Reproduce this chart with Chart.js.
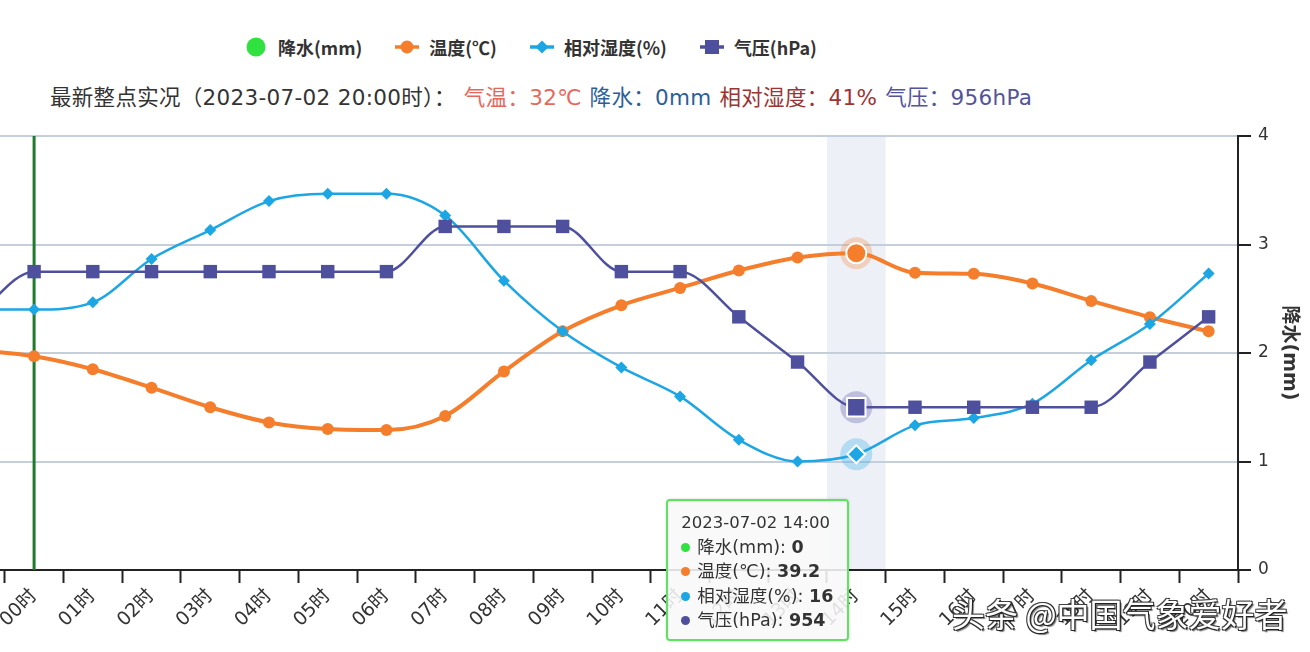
<!DOCTYPE html>
<html>
<head>
<meta charset="utf-8">
<script src="https://cdn.jsdelivr.net/npm/chart.js@4.4.1/dist/chart.umd.min.js"></script>
<style>
  html, body { margin:0; padding:0; width:1310px; height:652px; overflow:hidden; background:#fff;
    font-family:"Noto Sans CJK SC","Noto Sans",sans-serif; }
  #wrap { position:absolute; left:-66px; top:0; height:652px; }
  #legend { position:absolute; left:244px; top:35px; height:24px; display:flex; align-items:center;
    font-weight:bold; font-size:18px; color:#333; white-space:nowrap; }
  #legend .item { display:flex; align-items:center; margin-right:33px; }
  #legend canvas { margin-right:10px; }
  #subtitle { position:absolute; left:50px; top:84px; font-size:21.5px; color:#333; white-space:nowrap; line-height:28px;
    letter-spacing:0.3px; font-family:"DejaVu Sans","Noto Sans CJK SC",sans-serif; }
  #subtitle span.seg { margin-left:8px; }
  #tip { position:absolute; background:rgba(248,248,248,0.88); border:2px solid #5ee35e; border-radius:4px;
    padding:10px 14px 6px 13px; color:#333; white-space:nowrap; box-shadow:0 0 3px rgba(0,0,0,0.15);
    font-family:"DejaVu Sans","Noto Sans CJK SC",sans-serif; }
  #tip .t { font-size:16.5px; line-height:24px; }
  #tip .r { font-size:17.5px; line-height:24.4px; display:flex; align-items:center; }
  #tip .d { display:inline-block; width:9px; height:9px; border-radius:50%; margin-right:7px; }
  #tip b { font-weight:bold; }
  #wm { position:absolute; left:952px; top:589px; font-size:33px; color:#fff; white-space:nowrap;
    text-shadow: 1px 1px 0 #222, -1px -1px 0 #444, 1px -1px 0 #333, -1px 1px 0 #333, 2px 2px 1px rgba(0,0,0,0.5); }
</style>
</head>
<body>
<div id="legend"></div>
<div id="subtitle"></div>
<div id="wrap"><canvas id="c" width="1376" height="652"></canvas></div>
<div id="tip"></div>
<div id="wm">头条 @中国气象爱好者</div>
<script>
// ---------------- data ----------------
const hours = ['23时','00时','01时','02时','03时','04时','05时','06时','07时','08时','09时','10时',
               '11时','12时','13时','14时','15时','16时','17时','18时','19时','20时'];
const stamps = ['2023-07-01 23:00','2023-07-02 00:00','2023-07-02 01:00','2023-07-02 02:00','2023-07-02 03:00',
                '2023-07-02 04:00','2023-07-02 05:00','2023-07-02 06:00','2023-07-02 07:00','2023-07-02 08:00',
                '2023-07-02 09:00','2023-07-02 10:00','2023-07-02 11:00','2023-07-02 12:00','2023-07-02 13:00',
                '2023-07-02 14:00','2023-07-02 15:00','2023-07-02 16:00','2023-07-02 17:00','2023-07-02 18:00',
                '2023-07-02 19:00','2023-07-02 20:00'];
const precipitation = [0,0,0,0,0,0,0,0,0,0,0,0,0,0,0,0,0,0,0,0,0,0];
const temperature = [30.3,29.7,28.5,26.8,25.0,23.6,23.0,22.9,24.2,28.3,32.0,34.4,36.0,37.6,38.8,39.2,37.4,37.3,36.4,34.8,33.3,32.0];
const humidity    = [36,36,37,43,47,51,52,52,49,40,33,28,24,18,15,16,20,21,23,29,34,41];
const pressure    = [956,957,957,957,957,957,957,957,958,958,958,957,957,956,955,954,954,954,954,954,955,956];
const seriesNames = ['降水(mm)','温度(℃)','相对湿度(%)','气压(hPa)'];
const rainTicks = [0,1,2,3,4];
const markHour = '00时';
const activeHour = '14时';

// ---------------- styles ----------------
const C_RAIN = '#2fe23f', C_T = '#f57e2d', C_H = '#1da6e4', C_P = '#4e509e';
const HALO = { 1:'rgba(245,126,45,0.28)', 2:'rgba(29,166,228,0.28)', 3:'rgba(78,80,158,0.30)' };
Chart.defaults.font.family = '"DejaVu Sans","Noto Sans CJK SC",sans-serif';
const PLOT_LEFT_PAGE = -54;   // page x of the plot's left edge (left part cropped, as in the original)
const PLOT_WIDTH = 1292;
const AXIS_W = 72;

const overlay = {
  id:'overlay',
  beforeDraw(chart){
    const {ctx, chartArea, scales:{x}} = chart;
    const act = chart.getActiveElements();
    if (!act.length) return;
    const w = x.getPixelForValue(1) - x.getPixelForValue(0);
    const cx = x.getPixelForValue(act[0].index);
    ctx.save();
    ctx.fillStyle = '#eef0f7';
    ctx.fillRect(cx - w/2, chartArea.top, w, chartArea.bottom - chartArea.top);
    ctx.restore();
  },
  beforeDatasetsDraw(chart){
    const {ctx, chartArea, scales:{x}} = chart;
    ctx.save();
    const mx = x.getPixelForValue(hours.indexOf(markHour));
    ctx.strokeStyle = '#1f7a2b'; ctx.lineWidth = 3;
    ctx.beginPath(); ctx.moveTo(mx, chartArea.top); ctx.lineTo(mx, chartArea.bottom); ctx.stroke();
    chart.getActiveElements().forEach(a => {
      if (!HALO[a.datasetIndex]) return;
      const el = a.element;
      ctx.fillStyle = HALO[a.datasetIndex];
      ctx.beginPath(); ctx.arc(el.x, el.y, 16, 0, Math.PI*2); ctx.fill();
    });
    ctx.restore();
  }
};

const lineBase = { type:'line', cubicInterpolationMode:'monotone', tension:0.4, fill:false,
  pointBorderWidth:0, pointHoverBorderColor:'#fff', pointHoverBorderWidth:2 };

function build(canvas){
  return new Chart(canvas, {
    type:'line',
    data:{
      labels: hours,
      datasets:[
        { type:'bar', label:seriesNames[0], data:precipitation, yAxisID:'yRain', backgroundColor:C_RAIN, order:4 },
        Object.assign({}, lineBase, { label:seriesNames[1], data:temperature, yAxisID:'yT', borderColor:C_T, backgroundColor:C_T,
          borderWidth:4, pointStyle:'circle', pointRadius:6, pointHoverRadius:10, pointHoverBackgroundColor:C_T, order:3 }),
        Object.assign({}, lineBase, { label:seriesNames[2], data:humidity, yAxisID:'yH', borderColor:C_H, backgroundColor:C_H,
          borderWidth:2.5, pointStyle:'rectRot', pointRadius:6, pointHoverRadius:9, pointHoverBackgroundColor:C_H, order:2 }),
        Object.assign({}, lineBase, { label:seriesNames[3], data:pressure, yAxisID:'yP', borderColor:C_P, backgroundColor:C_P,
          borderWidth:2.5, pointStyle:'rect', pointRadius:9.5, pointHoverRadius:13, pointHoverBackgroundColor:C_P, order:1 })
      ]
    },
    options:{
      responsive:false, maintainAspectRatio:false, animation:false,
      layout:{ padding:{ top:136, left:0, right:0, bottom:0 } },
      plugins:{ legend:{display:false}, tooltip:{enabled:false} },
      scales:{
        x:{
          offset:true,
          grid:{ offset:true, drawOnChartArea:false, drawTicks:true, tickLength:13, tickColor:'#222', tickWidth:2 },
          border:{ display:true, color:'#222', width:2 },
          ticks:{ autoSkip:false, maxRotation:45, minRotation:45, padding:2, color:'#333', font:{ size:19 } },
          afterFit(s){ s.height = 82; s.paddingLeft = 0; s.paddingRight = 0; }
        },
        yRain:{
          position:'right', min:0, max:4,
          afterBuildTicks(s){ s.ticks = rainTicks.map(v => ({ value:v })); },
          grid:{ color:'#c5cfdb', lineWidth:2, tickColor:'#222', tickLength:13, tickWidth:2 },
          border:{ display:true, color:'#222', width:2 },
          ticks:{ color:'#333', font:{ size:17 }, padding:7 },
          title:{ display:true, text:seriesNames[0], color:'#333', font:{ size:19, weight:'bold' }, padding:{ top:10, bottom:0 } },
          afterFit(s){ s.width = AXIS_W; }
        },
        yT:{ display:false, min:10, max:50 },
        yH:{ display:false, min:0, max:60 },
        yP:{ display:false, min:950.4, max:960 }
      }
    },
    plugins:[overlay]
  });
}

const canvas = document.getElementById('c');
let chart = build(canvas);
const L0 = chart.chartArea.left;
chart.destroy();
canvas.width = Math.round(L0 + PLOT_WIDTH + AXIS_W);
canvas.height = 652;
chart = build(canvas);
const wrapLeft = PLOT_LEFT_PAGE - chart.chartArea.left;
const wrap = document.getElementById('wrap');
wrap.style.left = wrapLeft + 'px';
wrap.style.width = canvas.width + 'px';

const idx = hours.indexOf(activeHour);
chart.setActiveElements(chart.data.datasets.map((d,i) => ({ datasetIndex:i, index:idx })));
chart.update();

// ---------------- legend ----------------
const legendEl = document.getElementById('legend');
const legendColors = [C_RAIN, C_T, C_H, C_P];
seriesNames.forEach((name, i) => {
  const item = document.createElement('div'); item.className = 'item';
  const cv = document.createElement('canvas'); cv.width = 24; cv.height = 22;
  const g = cv.getContext('2d'); g.fillStyle = legendColors[i]; g.strokeStyle = legendColors[i];
  if (i === 0) { g.beginPath(); g.arc(12, 11, 9.5, 0, Math.PI*2); g.fill(); }
  else {
    g.lineWidth = 3.5; g.beginPath(); g.moveTo(0, 11); g.lineTo(24, 11); g.stroke();
    g.beginPath();
    if (i === 1) g.arc(12, 11, 6.5, 0, Math.PI*2);
    else if (i === 2) { g.moveTo(12, 4.5); g.lineTo(18.5, 11); g.lineTo(12, 17.5); g.lineTo(5.5, 11); g.closePath(); }
    else g.rect(5, 4, 14, 14);
    g.fill();
  }
  item.appendChild(cv);
  const t = document.createElement('span'); t.textContent = name; item.appendChild(t);
  legendEl.appendChild(item);
});

// ---------------- subtitle ----------------
const last = hours.length - 1;
const sub = document.getElementById('subtitle');
const segs = [
  ['最新整点实况（' + stamps[last] + '时）：', '#333', false],
  ['气温：' + Math.round(temperature[last]) + '℃', '#e8675d', true],
  ['降水：' + precipitation[last] + 'mm', '#2c5f98', true],
  ['相对湿度：' + humidity[last] + '%', '#9c3434', true],
  ['气压：' + pressure[last] + 'hPa', '#53549a', true]
];
segs.forEach(([txt, col, m]) => {
  const s = document.createElement('span'); s.textContent = txt; s.style.color = col;
  if (m) s.className = 'seg';
  sub.appendChild(s);
});

// ---------------- tooltip ----------------
const tip = document.getElementById('tip');
const vals = [precipitation, temperature, humidity, pressure];
let html = '<div class="t">' + stamps[idx] + '</div>';
seriesNames.forEach((n, i) => {
  html += '<div class="r"><span class="d" style="background:' + legendColors[i] + '"></span>' + n + ':&nbsp;<b>' + vals[i][idx] + '</b></div>';
});
tip.innerHTML = html;
const px = wrapLeft + chart.scales.x.getPixelForValue(idx);
tip.style.top = (chart.chartArea.bottom - 71) + 'px';
tip.style.left = (px - 7 - tip.offsetWidth) + 'px';
</script>
</body>
</html>
